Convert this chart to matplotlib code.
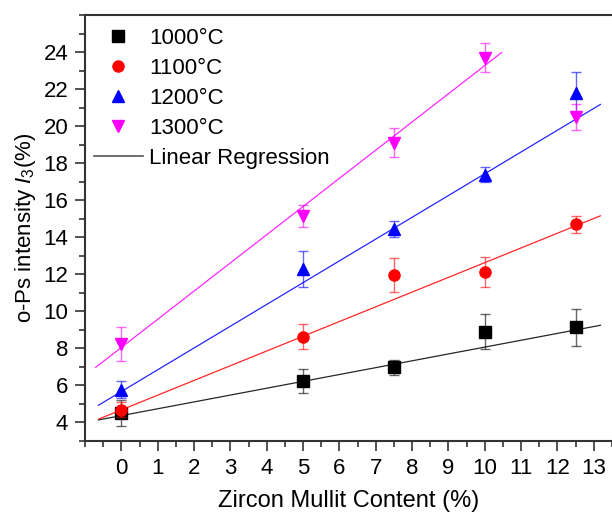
import matplotlib
matplotlib.use("Agg")
import matplotlib.pyplot as plt
from matplotlib.lines import Line2D
from matplotlib.ticker import MultipleLocator
import numpy as np

plt.rcParams['font.family'] = ['Liberation Sans', 'DejaVu Sans']
plt.rcParams['mathtext.fontset'] = 'custom'
plt.rcParams['mathtext.it'] = 'Liberation Sans:italic'
plt.rcParams['mathtext.rm'] = 'Liberation Sans'

# data
labels = ['1000°C', '1100°C', '1200°C', '1300°C']
x_vals = [0, 5, 7.5, 10, 12.5]
y_1000 = [4.5, 6.23, 6.98, 8.9, 9.14]
e_1000 = [0.7, 0.66, 0.4, 0.93, 1.0]
y_1100 = [4.7, 8.62, 11.94, 12.12, 14.7]
e_1100 = [0.4, 0.67, 0.92, 0.82, 0.46]
y_1200 = [5.78, 12.3, 14.45, 17.38, 21.8]
e_1200 = [0.45, 0.98, 0.42, 0.4, 1.1]
y_1300 = [8.23, 15.16, 19.1, 23.7, 20.5]
e_1300 = [0.93, 0.6, 0.78, 0.78, 0.7]

# linear regression lines (slope, intercept, x range)
fit_slope = [0.37, 0.795, 1.176, 1.522]
fit_icept = [4.37, 4.68, 5.67, 8.05]
fit_xmin = [-0.63, -0.63, -0.63, -0.71]
fit_xmax = [13.18, 13.18, 13.18, 10.46]

series = [y_1000, y_1100, y_1200, y_1300]
errors = [e_1000, e_1100, e_1200, e_1300]
colors = ['black', 'red', 'blue', 'magenta']
markers = ['s', 'o', '^', 'v']

fig = plt.figure(figsize=(6.12, 5.14), dpi=100)
ax = fig.add_axes([85/612, 73/514, 527/612, 426/514])

for i in range(4):
    xl = np.array([fit_xmin[i], fit_xmax[i]])
    ax.plot(xl, fit_slope[i]*xl + fit_icept[i], color=colors[i], lw=0.9, alpha=0.85)
    ax.errorbar(x_vals, series[i], yerr=errors[i], fmt='none', ecolor=colors[i],
                elinewidth=1.0, capsize=3.5, capthick=1.0, alpha=0.6)
    ax.plot(x_vals, series[i], linestyle='none', marker=markers[i], color=colors[i],
            markersize=8)

ax.set_xlim(-1, 13.5)
ax.set_ylim(3, 26)
ax.xaxis.set_minor_locator(MultipleLocator(0.5))
ax.yaxis.set_minor_locator(MultipleLocator(1))
ax.set_xticks(range(0, 14))
ax.set_yticks(range(4, 25, 2))
ax.tick_params(which='major', direction='out', length=7, width=1.2, labelsize=16,
               colors='#333333', labelcolor='black', pad=5)
ax.tick_params(which='minor', direction='out', length=4, width=1.2, colors='#333333')
for s in ['left', 'bottom', 'top']:
    ax.spines[s].set_linewidth(1.5)
    ax.spines[s].set_color('#333333')
ax.spines['right'].set_visible(False)

ax.set_xlabel('Zircon Mullit Content (%)', fontsize=17, labelpad=8)
ax.set_ylabel('o-Ps intensity $\\mathit{I}_3$(%)', fontsize=16, labelpad=4)

handles = []
for i in range(4):
    handles.append(Line2D([], [], linestyle='none', marker=markers[i], color=colors[i], markersize=8))
handles.append(Line2D([], [], color='#555555', lw=1.2))
ax.legend(handles, labels + ['Linear Regression'], loc='upper left', frameon=False,
          fontsize=16, handlelength=2.2, handletextpad=0.3, labelspacing=0.4,
          borderaxespad=0.0, bbox_to_anchor=(0.0, 0.99))

fig.savefig('out.png', dpi=100)
